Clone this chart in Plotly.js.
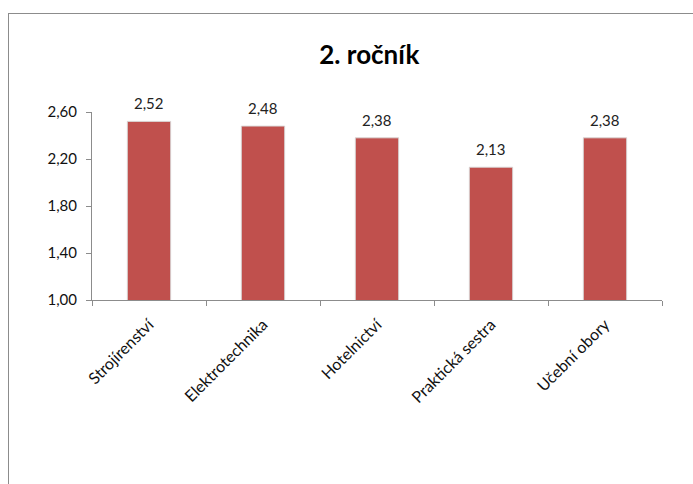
<!DOCTYPE html>
<html>
<head>
<meta charset="utf-8">
<script src="https://cdn.plot.ly/plotly-3.0.1.min.js"></script>
<style>
  html, body { margin: 0; padding: 0; background: #fff; }
  #wrap { position: relative; width: 693px; height: 484px; overflow: hidden; }
  #chart { width: 693px; height: 484px; }
  #frame { position: absolute; left: 8px; top: 13px; width: 800px; height: 600px;
           border-left: 1.5px solid #8c8c8c; border-top: 1.5px solid #8c8c8c; pointer-events: none; }
</style>
</head>
<body>
<div id="wrap">
  <div id="chart"></div>
  <div id="frame"></div>
</div>
<script>
const categories = ["Strojírenství", "Elektrotechnika", "Hotelnictví", "Praktická sestra", "Učební obory"];
const values = [2.52, 2.48, 2.38, 2.13, 2.38];
const yTicks = [1.00, 1.40, 1.80, 2.20, 2.60];
const chartTitle = "2. ročník";

const font = "Lato, 'Open Sans', sans-serif";

const trace = {
  type: "bar",
  x: categories,
  y: values,
  width: 0.38,
  marker: { color: "#C0504D", line: { color: "rgba(215,215,215,0.9)", width: 1 } },
  hoverinfo: "none"
};

const fmt = v => v.toFixed(2).replace(".", ",");
const annotations = categories.map((c, i) => ({
  x: c, y: values[i], xref: "x", yref: "y",
  text: fmt(values[i]),
  showarrow: false,
  yanchor: "bottom",
  yshift: 7,
  font: { family: font, size: 15, color: "#222" }
}));

const layout = {
  width: 693,
  height: 484,
  separators: ", ",
  margin: { l: 92, r: 31, t: 112, b: 184 },
  paper_bgcolor: "#fff",
  plot_bgcolor: "#fff",
  showlegend: false,
  annotations: annotations,
  title: {
    text: "<b>" + chartTitle + "</b>",
    font: { family: font, size: 26, color: "#000" },
    x: 0.533, xanchor: "center",
    y: 0.887, yanchor: "middle"
  },
  xaxis: {
    type: "category",
    showline: true,
    linecolor: "#8c8c8c",
    linewidth: 1,
    ticks: "outside",
    tickson: "boundaries",
    ticklen: 5,
    tickcolor: "#8c8c8c",
    tickangle: -45,
    ticklabelstandoff: 8,
    tickfont: { family: font, size: 16, color: "#111" },
    showgrid: false,
    zeroline: false
  },
  yaxis: {
    range: [1, 2.6],
    tickvals: yTicks,
    tickformat: ".2f",
    showline: true,
    linecolor: "#8c8c8c",
    linewidth: 1,
    ticks: "outside",
    ticklen: 5,
    tickcolor: "#8c8c8c",
    ticklabelstandoff: 6,
    tickfont: { family: font, size: 15, color: "#111" },
    showgrid: false,
    zeroline: false
  }
};

Plotly.newPlot("chart", [trace], layout, { displayModeBar: false, staticPlot: true });
</script>
</body>
</html>
